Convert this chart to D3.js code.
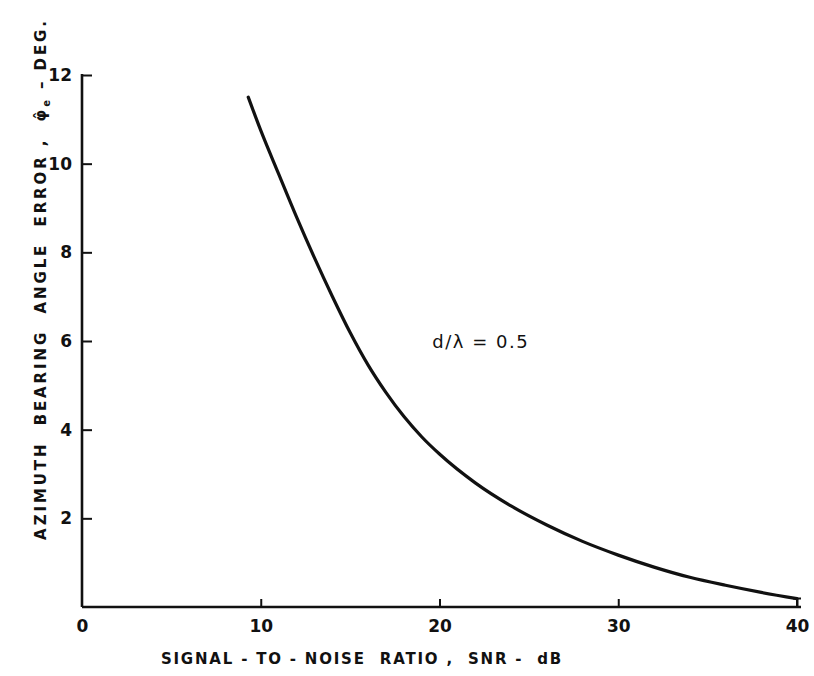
<!DOCTYPE html>
<html>
<head>
<meta charset="utf-8">
<script src="https://cdn.jsdelivr.net/npm/d3@7"></script>
<style>
  body { margin: 0; background: #fff; }
  svg text { font-family: "DejaVu Sans", sans-serif; fill: #111; white-space: pre; }
  .domain, .tick line { stroke: #111; }
</style>
</head>
<body>
<script>
// values
const snr = [9.3, 10, 11, 12, 13, 14, 15, 16, 17, 18, 19, 20, 22, 24, 26, 28, 30, 32, 34, 36, 38, 40];
const err = [11.5, 10.75, 9.77, 8.8, 7.88, 7.01, 6.19, 5.46, 4.84, 4.3, 3.84, 3.45, 2.8, 2.28, 1.85, 1.48, 1.17, 0.9, 0.67, 0.49, 0.33, 0.19];
const xTicks = [0, 10, 20, 30, 40];
const yTicks = [2, 4, 6, 8, 10, 12];
const note = { x: 19.6, y: 5.84, text: "d/λ = 0.5" };

const w = 814, h = 676;
const svg = d3.select('body').append('svg').attr('width', w).attr('height', h);

const x = d3.scaleLinear().domain([0, 40]).range([82, 797]);
const y = d3.scaleLinear().domain([0, 12]).range([607, 75]);

// x axis, ticks pointing up
const gx = svg.append('g').attr('transform', 'translate(0,' + y(0) + ')')
  .call(d3.axisBottom(x).tickValues(xTicks).tickSize(-8).tickSizeOuter(0).tickPadding(13).tickFormat(d3.format('d')));
gx.select('.domain').attr('stroke-width', 2.6).attr('d', 'M' + x(0) + ',0H' + (x(40) + 4));
gx.selectAll('.tick line').attr('stroke-width', 2);
gx.selectAll('.tick').filter(d => d === 0).select('line').remove();
gx.selectAll('text').attr('font-size', 17).attr('font-weight', 'bold').attr('fill', '#111');

// y axis, ticks pointing right
const gy = svg.append('g').attr('transform', 'translate(' + x(0) + ',0)')
  .call(d3.axisLeft(y).tickValues(yTicks).tickSize(-10).tickSizeOuter(0).tickPadding(10));
gy.select('.domain').attr('stroke-width', 2.6).attr('d', 'M0,' + y(0) + 'V' + (y(12) - 1));
gy.selectAll('.tick line').attr('stroke-width', 2);
gy.selectAll('text').attr('font-size', 17).attr('font-weight', 'bold').attr('fill', '#111');

// curve
const line = d3.line().x((d, i) => x(snr[i])).y(d => y(d)).curve(d3.curveMonotoneX);
svg.append('path').datum(err).attr('d', line)
  .attr('fill', 'none').attr('stroke', '#111').attr('stroke-width', 3.2).attr('stroke-linecap', 'round');

// small bar at the end of the curve
const last = err.length - 1;
svg.append('path')
  .attr('d', 'M' + (x(snr[last]) - 4) + ',' + y(err[last]) + 'H' + (x(snr[last]) + 4) + 'M' + x(snr[last]) + ',' + y(err[last]) + 'V' + y(0))
  .attr('stroke', '#111').attr('stroke-width', 2).attr('fill', 'none');

// annotation
svg.append('text').attr('x', x(note.x)).attr('y', y(note.y))
  .attr('font-size', 18).style('letter-spacing', '1.5px').text(note.text);

// axis titles
svg.append('text').attr('x', 362).attr('y', 664).attr('text-anchor', 'middle')
  .attr('font-size', 15).attr('font-weight', 'bold').style('letter-spacing', '1.8px')
  .text('SIGNAL - TO - NOISE  RATIO ,  SNR -  dB');

const yt = svg.append('text').attr('transform', 'translate(46,279) rotate(-90)')
  .attr('text-anchor', 'middle').attr('font-size', 15).attr('font-weight', 'bold').style('letter-spacing', '2.9px');
yt.append('tspan').text('AZIMUTH  BEARING  ANGLE  ERROR ,  φ\u0302');
yt.append('tspan').attr('font-size', 10).attr('dy', 4).text('e');
yt.append('tspan').attr('dy', -4).text(' – DEG.');
</script>
</body>
</html>
